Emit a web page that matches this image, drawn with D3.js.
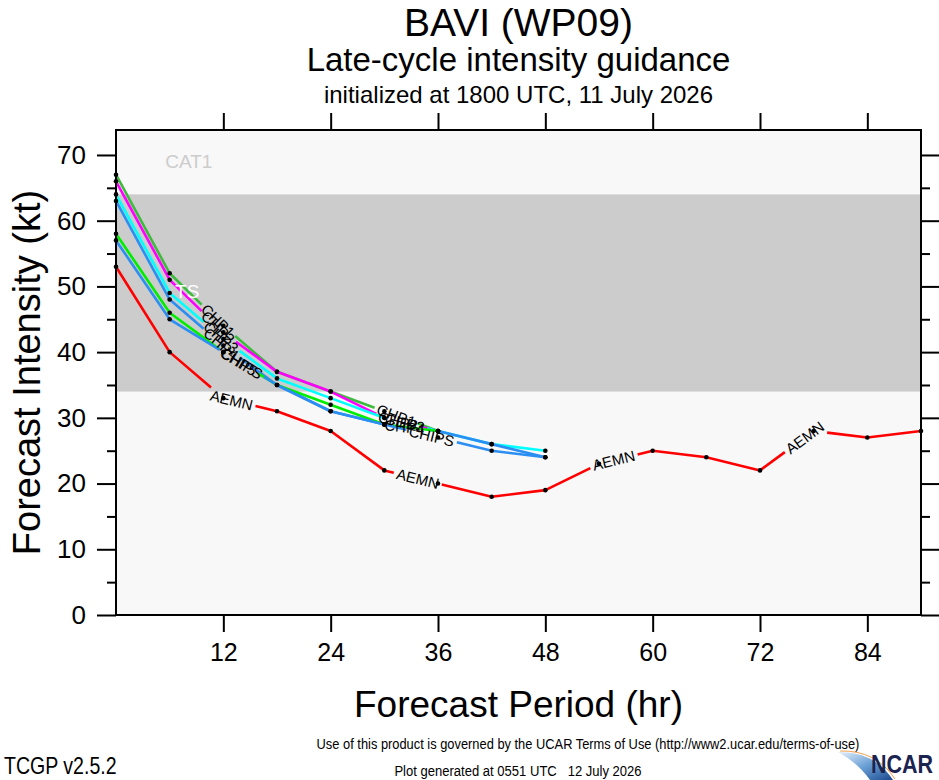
<!DOCTYPE html>
<html><head><meta charset="utf-8">
<script src="https://cdn.jsdelivr.net/npm/d3@7"></script>
<style>
body{margin:0;background:#fff}
svg{display:block}
text{font-family:"Liberation Sans",Arial,Helvetica,sans-serif}
</style>
</head><body>
<svg id="c" width="939" height="780"></svg>
<script>
// ---------- data ----------
const hours = [0,6,12,18,24,30,36,42,48,54,60,66,72,78,84,90];
const aemnValues  = [53,40,33,31,28,22,20,18,19,23,25,24,22,28,27,28];
const chp1Values  = [67,52,44,37,34,31,28];
const chp2Values  = [66,51,43,37,34,30,28];
const chp3Values  = [64,49,42,36,33,30,28,26,25];
const chp4Values  = [63,48,41,35,31,29,28,26,24];
const chp5Values  = [58,46,40,35,32,29,28];
const chipsValues = [57,45,40,35,31,29,27,25,24];
const modelNames  = ["CHP1","CHP2","CHP3","CHP4","CHP5","CHIPS","AEMN"];
const modelColors = ["#3dbb3d","#ff00ff","#00ffff","#2b8ef2","#00ee00","#2b8ef2","#ff0000"];
const xTickValues = [12,24,36,48,60,72,84];
const yMajorTicks = [0,10,20,30,40,50,60,70];
const yMinorTicks = [5,15,25,35,45,55,65];
const tsBand = [34,64];
const bandLabels = [{text:"CAT1", h:5.5, kt:68, color:"#cccccc"},{text:"TS", h:6.6, kt:48.3, color:"#ffffff"}];

const series = [chp1Values,chp2Values,chp3Values,chp4Values,chp5Values,chipsValues,aemnValues]
  .map((v,i)=>({name:modelNames[i], color:modelColors[i], pts:v.map((k,j)=>({h:hours[j], kt:k}))}));

// ---------- layout ----------
const svg = d3.select("#c");
const L=116, R=921, T=130, B=615;
const x = d3.scaleLinear().domain([0,90]).range([L,R]);
const y = d3.scaleLinear().domain([0,73.8]).range([B,T]);

// background
svg.append("rect").attr("x",L).attr("y",T).attr("width",R-L).attr("height",B-T).attr("fill","#f8f8f8");
svg.append("rect").attr("x",L).attr("y",y(tsBand[1])).attr("width",R-L)
   .attr("height",y(tsBand[0])-y(tsBand[1])).attr("fill","#cccccc");

// lines
const line = d3.line().x(d=>x(d.h)).y(d=>y(d.kt));
const gLines = svg.append("g");
const gDots = svg.append("g");
const gBand = svg.append("g");
const gLab = svg.append("g");
const FIRST=180, STEP=205;

bandLabels.forEach(b=>{
  gBand.append("text").attr("x",x(b.h)).attr("y",y(b.kt)).attr("font-size",19)
     .attr("fill",b.color).text(b.text);
});

series.forEach(s=>{
  const P = s.pts.map(d=>[x(d.h),y(d.kt)]);
  const segs=[]; let acc=0;
  for(let i=0;i<P.length-1;i++){
    const dx=P[i+1][0]-P[i][0], dy=P[i+1][1]-P[i][1];
    const len=Math.hypot(dx,dy);
    segs.push({x0:P[i][0],y0:P[i][1],dx,dy,len,start:acc}); acc+=len;
  }
  const total=acc;
  const path = gLines.append("path").attr("d",line(s.pts)).attr("fill","none")
     .attr("stroke",s.color).attr("stroke-width",2.6).attr("stroke-linejoin","round");
  const labs=[];
  for(let p=FIRST; p<total-12; p+=STEP){
    const g = segs.find(g=>p>=g.start && p<=g.start+g.len) || segs[segs.length-1];
    const f=(p-g.start)/g.len;
    const px=g.x0+f*g.dx, py=g.y0+f*g.dy;
    const ang=Math.atan2(g.dy,g.dx)*180/Math.PI;
    const t = gLab.append("text").attr("x",px).attr("y",py).attr("font-size",15)
      .attr("text-anchor","middle").attr("dominant-baseline","central")
      .attr("transform",`rotate(${ang},${px},${py})`).attr("fill","#000").text(s.name);
    labs.push({p,w:t.node().getComputedTextLength()});
  }
  if(labs.length){
    const dash=[]; let pos=0;
    labs.forEach(l=>{
      const a=Math.max(pos,l.p-l.w/2-3), b=l.p+l.w/2+3;
      dash.push(a-pos, b-a); pos=b;
    });
    dash.push(total-pos+2000,0);
    path.attr("stroke-dasharray",dash.join(","));
  }
  gDots.selectAll(null).data(s.pts).join("circle")
    .attr("cx",d=>x(d.h)).attr("cy",d=>y(d.kt)).attr("r",2.3).attr("fill","#000");
});

// frame
svg.append("rect").attr("x",L).attr("y",T).attr("width",R-L).attr("height",B-T)
   .attr("fill","none").attr("stroke","#000").attr("stroke-width",2);

function styleAxis(g){
  g.select(".domain").remove();
  g.selectAll(".tick line").attr("stroke","#000").attr("stroke-width",2);
  g.selectAll(".tick text").attr("font-family",'"Liberation Sans",Arial,sans-serif').attr("fill","#000");
}
// left
svg.append("g").attr("transform",`translate(${L},0)`)
  .call(d3.axisLeft(y).tickValues(yMajorTicks).tickSize(19).tickPadding(11).tickFormat(d3.format("d")))
  .call(styleAxis).call(g=>g.selectAll(".tick text").attr("font-size",26));
svg.append("g").attr("transform",`translate(${L},0)`)
  .call(d3.axisLeft(y).tickValues(yMinorTicks).tickSize(9).tickFormat(""))
  .call(styleAxis);
// right
svg.append("g").attr("transform",`translate(${R},0)`)
  .call(d3.axisRight(y).tickValues(yMajorTicks).tickSize(19).tickFormat(""))
  .call(styleAxis);
svg.append("g").attr("transform",`translate(${R},0)`)
  .call(d3.axisRight(y).tickValues(yMinorTicks).tickSize(9).tickFormat(""))
  .call(styleAxis);
// bottom
svg.append("g").attr("transform",`translate(0,${B})`)
  .call(d3.axisBottom(x).tickValues(xTickValues).tickSize(17).tickPadding(11).tickFormat(d3.format("d")))
  .call(styleAxis).call(g=>g.selectAll(".tick text").attr("font-size",25));
// top
svg.append("g").attr("transform",`translate(0,${T})`)
  .call(d3.axisTop(x).tickValues(xTickValues).tickSize(17).tickFormat(""))
  .call(styleAxis);

// titles
const cx=(L+R)/2;
svg.append("text").attr("x",cx).attr("y",36).attr("text-anchor","middle").attr("font-size",39).text("BAVI (WP09)");
svg.append("text").attr("x",cx).attr("y",71).attr("text-anchor","middle").attr("font-size",33).text("Late-cycle intensity guidance");
svg.append("text").attr("x",cx).attr("y",103).attr("text-anchor","middle").attr("font-size",24).text("initialized at 1800 UTC, 11 July 2026");

// axis titles
svg.append("text").attr("transform",`translate(40,${(T+B)/2}) rotate(-90)`).attr("text-anchor","middle")
  .attr("font-size",38).text("Forecast Intensity (kt)");
svg.append("text").attr("x",cx).attr("y",717).attr("text-anchor","middle").attr("font-size",37).text("Forecast Period (hr)");

// footer (horizontally condensed like the original narrow face)
svg.append("text").attr("transform","translate(588,749) scale(0.83,1)").attr("text-anchor","middle")
  .attr("font-size",15.5).text("Use of this product is governed by the UCAR Terms of Use (http://www2.ucar.edu/terms-of-use)");
svg.append("text").attr("transform","translate(4,774) scale(0.85,1)")
  .attr("font-size",23).text("TCGP v2.5.2");
svg.append("text").attr("transform","translate(518,776) scale(0.9,1)").attr("text-anchor","middle").style("white-space","pre")
  .attr("font-size",14.5).text("Plot generated at 0551 UTC   12 July 2026");

// NCAR logo
const defs=svg.append("defs");
const gr=defs.append("linearGradient").attr("id","sw").attr("x1","0").attr("y1","0").attr("x2","1").attr("y2","1");
gr.append("stop").attr("offset","0").attr("stop-color","#e8f1fa");
gr.append("stop").attr("offset","0.5").attr("stop-color","#6a9fd6");
gr.append("stop").attr("offset","1").attr("stop-color","#1c4a8e");
svg.append("path").attr("d","M838,752 Q874,751 893,780 L870,780 Q858,763 838,752 Z").attr("fill","url(#sw)");
svg.append("path").attr("d","M840,751 Q876,750 895,779").attr("fill","none").attr("stroke","#f0a050").attr("stroke-width",1);
svg.append("text").attr("transform","translate(871,773) scale(0.86,1)")
  .attr("font-size",25).attr("font-weight","bold").attr("fill","#1b2350").text("NCAR");
</script>
</body></html>
